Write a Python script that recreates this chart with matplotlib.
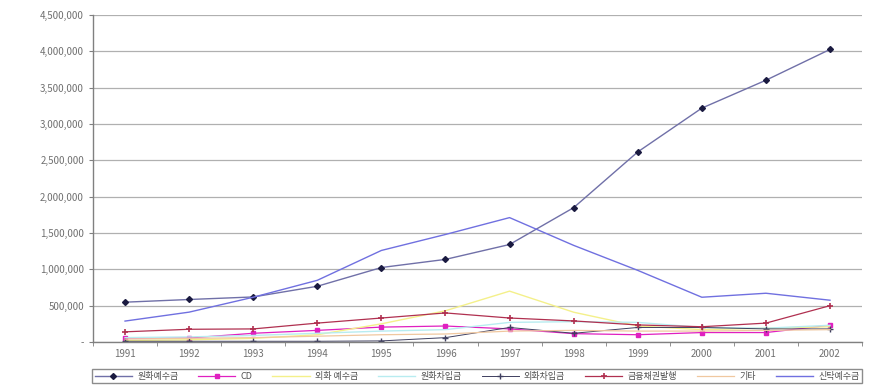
import matplotlib
matplotlib.use("Agg")
import matplotlib.pyplot as plt
from matplotlib.ticker import FuncFormatter, FixedLocator

plt.rcParams['font.family'] = ['Noto Sans CJK KR', 'DejaVu Sans']

years = ['1991', '1992', '1993', '1994', '1995', '1996',
         '1997', '1998', '1999', '2000', '2001', '2002']

won_deposits = [548000, 585000, 620000, 767000, 1025000, 1137000,
                1342000, 1849000, 2616000, 3219000, 3603000, 4027000]
cd = [55000, 55000, 120000, 160000, 205000, 220000,
      180000, 115000, 100000, 130000, 130000, 230000]
fx_deposits = [20000, 30000, 50000, 100000, 250000, 430000,
               700000, 410000, 220000, 170000, 190000, 210000]
won_borrowings = [60000, 70000, 90000, 120000, 150000, 170000,
                  270000, 280000, 270000, 200000, 190000, 230000]
fx_borrowings = [10000, 10000, 10000, 10000, 15000, 60000,
                 200000, 120000, 200000, 200000, 180000, 180000]
bank_bonds = [140000, 175000, 180000, 260000, 330000, 400000,
              330000, 290000, 235000, 210000, 260000, 500000]
others = [40000, 50000, 60000, 80000, 100000, 110000,
          150000, 160000, 150000, 150000, 160000, 170000]
trust_deposits = [288000, 411000, 616000, 849000, 1260000, 1480000,
                  1712000, 1330000, 986000, 616000, 671000, 575000]

labels = ['원화예수금', 'CD', '외화 예수금', '원화차입금',
          '외화차입금', '금융채권발행', '기타', '신탁예수금']

series = [won_deposits, cd, fx_deposits, won_borrowings,
          fx_borrowings, bank_bonds, others, trust_deposits]
styles = [
    dict(color='#7070a8', marker='D', markersize=3, mfc='#1a1a40',
         mec='#1a1a40', lw=1.0),
    dict(color='#e020c0', marker='s', markersize=3, lw=0.9),
    dict(color='#f4f08a', marker=None, lw=1.0),
    dict(color='#b8ecf0', marker=None, lw=1.0),
    dict(color='#404060', marker='+', markersize=5, lw=0.7),
    dict(color='#b03050', marker='+', markersize=5, mew=1.2, lw=0.9),
    dict(color='#f0c8a0', marker=None, lw=0.9),
    dict(color='#7070e0', marker=None, lw=1.0),
]

fig = plt.figure(figsize=(8.69, 3.86), dpi=100)
ax = fig.add_axes([0.107, 0.114, 0.885, 0.847])

x = list(range(len(years)))
handles = []
for vals, lab, st in zip(series, labels, styles):
    h, = ax.plot(x, vals, label=lab, **st)
    handles.append(h)

ax.set_xlim(-0.5, len(years) - 0.5)
ax.set_ylim(0, 4500000)
ax.set_yticks(range(0, 4500001, 500000))
ax.yaxis.set_major_formatter(FuncFormatter(
    lambda v, p: '-' if v == 0 else f'{int(v):,}'))
ax.set_xticks(x)
ax.set_xticklabels(years)
ax.xaxis.set_minor_locator(FixedLocator([i - 0.5 for i in range(len(years) + 1)]))
ax.tick_params(axis='x', which='major', length=0, pad=5)
ax.tick_params(axis='x', which='minor', length=3, color='#808080')
ax.tick_params(axis='y', length=3, color='#808080')
ax.tick_params(labelsize=7, labelcolor='#707070')

ax.grid(axis='y', color='#b0b0b0', lw=0.9)
ax.set_axisbelow(True)
for s in ['top', 'right']:
    ax.spines[s].set_visible(False)
for s in ['left', 'bottom']:
    ax.spines[s].set_color('#808080')
    ax.spines[s].set_linewidth(1.0)

leg = fig.legend(handles=handles, labels=labels, loc='lower center',
                 bbox_to_anchor=(0.549, -0.005), ncol=8, fontsize=6.5,
                 frameon=True, fancybox=False, edgecolor='#707070',
                 handlelength=4.1, columnspacing=2.2, borderpad=0.3,
                 handletextpad=0.6)
leg.get_frame().set_linewidth(1.0)
for t in leg.get_texts():
    t.set_color('#505050')

fig.savefig('out.png', dpi=100)
